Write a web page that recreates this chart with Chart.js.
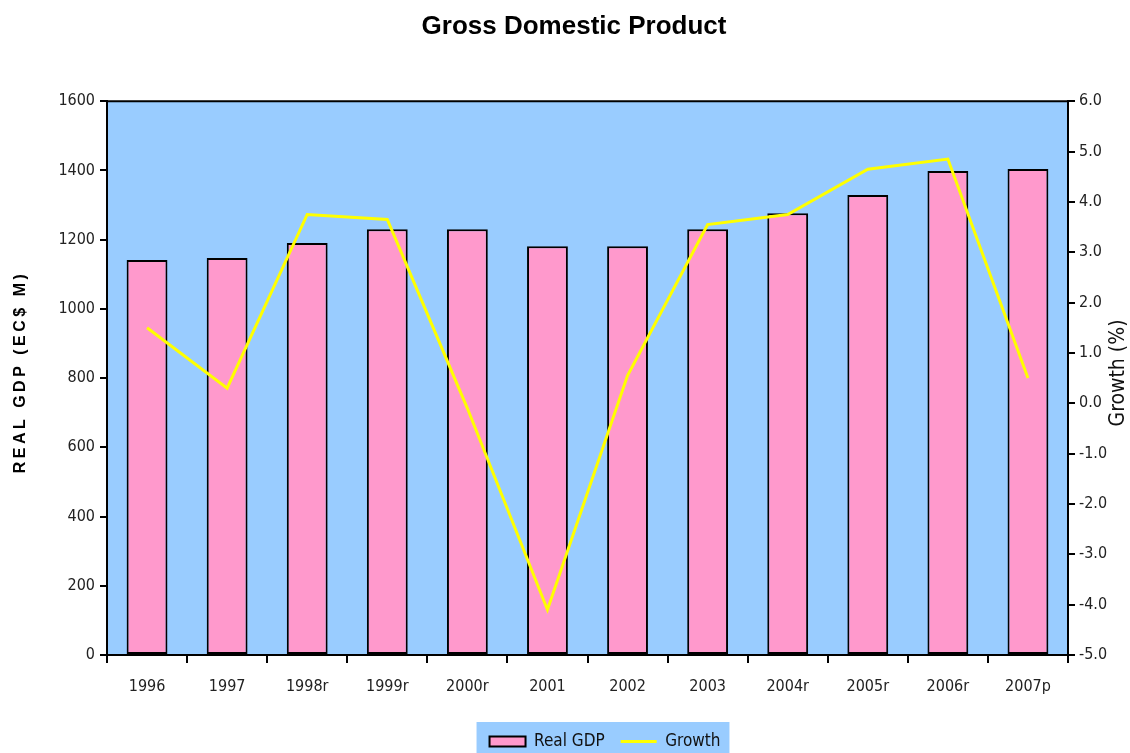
<!DOCTYPE html>
<html>
<head>
<meta charset="utf-8">
<script src="https://cdn.jsdelivr.net/npm/chart.js@4"></script>
<style>
  html, body { margin: 0; padding: 0; background: #fff; }
  #wrap { width: 1130px; height: 753px; position: relative; }
</style>
</head>
<body>
<div id="wrap"><canvas id="gdp"></canvas></div>
<script>
const years = ['1996', '1997', '1998r', '1999r', '2000r', '2001', '2002', '2003', '2004r', '2005r', '2006r', '2007p'];
const realGdp = [1141, 1147, 1190, 1230, 1230, 1181, 1181, 1230, 1276, 1329, 1398, 1404];
const growth = [1.5, 0.3, 3.75, 3.65, -0.1, -4.1, 0.55, 3.55, 3.75, 4.65, 4.85, 0.5];

const narrow = "'DejaVu Sans Condensed', 'Liberation Sans Narrow', 'Liberation Sans', Arial, sans-serif";
const tickFont = { family: narrow, size: 16 };
const legendPad = 16;

// plot background, frame, blue legend box and the two axis titles
const backdrop = {
  id: 'backdrop',
  afterLayout(chart) {
    const lg = chart.legend;
    lg.left += 40; lg.right += 40;
    lg.top += 7; lg.bottom += 7;
    const tb = chart.titleBlock;
    if (tb) { tb.left += 9; tb.right += 9; }
  },
  beforeDraw(chart) {
    const { ctx, chartArea: a } = chart;
    ctx.save();
    ctx.fillStyle = '#99CCFF';
    ctx.fillRect(a.left, a.top, a.right - a.left, a.bottom - a.top);
    const lg = chart.legend;
    const rowW = lg.lineWidths ? lg.lineWidths[0] : 255;
    const cx = (lg.left + lg.right) / 2;
    const start = cx + legendPad / 2 - rowW / 2;
    const end = start + rowW - legendPad;
    ctx.fillRect(start - 13, chart.height - 31, end - start + 22, 31);
    ctx.restore();
  },
  afterDatasetsDraw(chart) {
    const { ctx, chartArea: a } = chart;
    ctx.save();
    ctx.strokeStyle = '#000';
    ctx.lineWidth = 2;
    ctx.beginPath();
    ctx.moveTo(a.left, a.top);
    ctx.lineTo(a.right, a.top);
    ctx.stroke();
    ctx.fillStyle = '#000';
    ctx.textAlign = 'center';
    ctx.textBaseline = 'middle';

    ctx.save();
    ctx.translate(21, 372);
    ctx.rotate(-Math.PI / 2);
    ctx.font = "bold 16px 'Liberation Sans', Arial, sans-serif";
    ctx.letterSpacing = '3.5px';
    ctx.fillText('REAL GDP (EC$ M)', 0, 0);
    ctx.restore();

    ctx.save();
    ctx.translate(1119, 373);
    ctx.rotate(-Math.PI / 2);
    ctx.font = '21px ' + narrow;
    ctx.fillStyle = '#111';
    ctx.fillText('Growth (%)', 0, 0);
    ctx.restore();
    ctx.restore();
  }
};

new Chart(document.getElementById('gdp'), {
  data: {
    labels: years,
    datasets: [
      {
        type: 'bar',
        label: 'Real GDP',
        data: realGdp,
        backgroundColor: '#FF99CC',
        borderColor: '#000',
        borderWidth: 2,
        borderSkipped: false,
        categoryPercentage: 1,
        barPercentage: 0.51,
        yAxisID: 'y',
        order: 2
      },
      {
        type: 'line',
        label: 'Growth',
        data: growth,
        borderColor: '#FFFF00',
        backgroundColor: '#FFFF00',
        borderWidth: 3,
        pointRadius: 0,
        tension: 0,
        yAxisID: 'y1',
        order: 1
      }
    ]
  },
  options: {
    responsive: true,
    maintainAspectRatio: false,
    animation: false,
    plugins: {
      tooltip: { enabled: false },
      title: {
        display: true,
        text: 'Gross Domestic Product',
        color: '#000',
        font: { family: "'Liberation Sans', Arial, sans-serif", size: 26, weight: 'bold' },
        padding: { top: 11, bottom: 59 }
      },
      legend: {
        position: 'bottom',
        labels: {
          color: '#111',
          font: { family: narrow, size: 17 },
          usePointStyle: true,
          pointStyleWidth: 36,
          boxHeight: 10,
          padding: legendPad,
          sort: (a, b) => a.datasetIndex - b.datasetIndex,
          generateLabels(chart) {
            const items = Chart.defaults.plugins.legend.labels.generateLabels(chart);
            items.forEach(it => {
              if (it.datasetIndex === 0) { it.pointStyle = 'rect'; it.lineWidth = 2; it.strokeStyle = '#000'; }
              else { it.pointStyle = 'line'; it.lineWidth = 3; it.strokeStyle = '#FFFF00'; }
            });
            return items;
          }
        }
      }
    },
    scales: {
      x: {
        offset: true,
        border: { color: '#000', width: 2 },
        grid: { offset: true, drawOnChartArea: false, color: '#000', lineWidth: 2, tickLength: 8 },
        ticks: { color: '#222', font: tickFont, padding: 14 },
        afterFit(s) { s.height = 55; }
      },
      y: {
        position: 'left',
        min: 0,
        max: 1600,
        border: { color: '#000', width: 2 },
        grid: { drawOnChartArea: false, color: '#000', lineWidth: 2, tickLength: 7 },
        ticks: { stepSize: 200, color: '#222', font: tickFont, padding: 5, callback: v => String(v) },
        afterFit(s) { s.width = 107; }
      },
      y1: {
        position: 'right',
        min: -5,
        max: 6,
        border: { color: '#000', width: 2 },
        grid: { drawOnChartArea: false, color: '#000', lineWidth: 2, tickLength: 7 },
        ticks: { stepSize: 1, color: '#222', font: tickFont, padding: 4, callback: v => v.toFixed(1) },
        afterFit(s) { s.width = 62; }
      }
    }
  },
  plugins: [backdrop]
});
</script>
</body>
</html>
